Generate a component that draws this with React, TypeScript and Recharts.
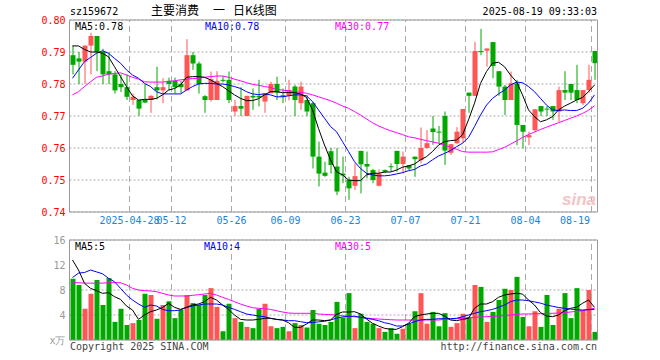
import { ComposedChart, Bar, Line, XAxis, YAxis, CartesianGrid, ReferenceLine, Cell } from 'recharts'

const dates = [
  '04-14', '04-15', '04-16', '04-17', '04-18', '04-21', '04-22', '04-23', '04-24', '04-25',
  '04-28', '04-29', '04-30', '05-06', '05-07', '05-08', '05-09', '05-12', '05-13', '05-14',
  '05-15', '05-16', '05-19', '05-20', '05-21', '05-22', '05-23', '05-26', '05-27', '05-28',
  '05-29', '05-30', '06-03', '06-04', '06-05', '06-06', '06-09', '06-10', '06-11', '06-12',
  '06-13', '06-16', '06-17', '06-18', '06-19', '06-20', '06-23', '06-24', '06-25', '06-26',
  '06-27', '06-30', '07-01', '07-02', '07-03', '07-04', '07-07', '07-08', '07-09', '07-10',
  '07-11', '07-14', '07-15', '07-16', '07-17', '07-18', '07-21', '07-22', '07-23', '07-24',
  '07-25', '07-28', '07-29', '07-30', '07-31', '08-01', '08-04', '08-05', '08-06', '08-07',
  '08-08', '08-11', '08-12', '08-13', '08-14', '08-15', '08-18', '08-19',
]

const axisDates = ['04-28', '05-12', '05-26', '06-09', '06-23', '07-07', '07-21', '08-04', '08-19']

const open = [
  0.789, 0.788, 0.787, 0.792, 0.795, 0.790, 0.784, 0.783, 0.780, 0.779,
  0.775, 0.775, 0.775, 0.775, 0.779, 0.778, 0.781, 0.781, 0.780, 0.778,
  0.789, 0.7864, 0.7762, 0.775, 0.775, 0.7813, 0.7813, 0.7714, 0.7731, 0.770,
  0.7763, 0.7763, 0.7745, 0.7771, 0.780, 0.7765, 0.7763, 0.7792, 0.774, 0.775,
  0.774, 0.7573, 0.7523, 0.759, 0.7542, 0.752, 0.750, 0.7482, 0.7591, 0.755,
  0.7531, 0.7482, 0.7531, 0.7543, 0.7591, 0.755, 0.7546, 0.7573, 0.7562, 0.760,
  0.7661, 0.7651, 0.770, 0.7585, 0.7615, 0.763, 0.7773, 0.7763, 0.7903, 0.7904,
  0.7931, 0.784, 0.7792, 0.775, 0.7802, 0.7672, 0.7633, 0.7656, 0.7731, 0.7723,
  0.7731, 0.7714, 0.7781, 0.780, 0.7781, 0.774, 0.7781, 0.7903,
]

const high = [
  0.792, 0.790, 0.792, 0.796, 0.795, 0.791, 0.790, 0.784, 0.783, 0.783,
  0.777, 0.775, 0.780, 0.7765, 0.7854, 0.7818, 0.782, 0.782, 0.781, 0.794,
  0.790, 0.787, 0.7765, 0.7839, 0.784, 0.7825, 0.7839, 0.775, 0.779, 0.7763,
  0.7786, 0.7813, 0.7771, 0.7807, 0.7823, 0.7786, 0.7813, 0.7797, 0.7807, 0.7766,
  0.7745, 0.762, 0.7557, 0.760, 0.760, 0.7573, 0.751, 0.7552, 0.7591, 0.7589,
  0.7535, 0.7533, 0.7533, 0.7552, 0.7591, 0.7589, 0.7546, 0.7573, 0.7664, 0.7656,
  0.770, 0.7669, 0.7714, 0.7612, 0.7665, 0.7722, 0.7773, 0.7932, 0.7972, 0.7911,
  0.7931, 0.784, 0.7797, 0.7839, 0.7813, 0.7672, 0.7651, 0.7721, 0.7731, 0.7731,
  0.7731, 0.7792, 0.784, 0.780, 0.786, 0.7781, 0.786, 0.7903,
]

const low = [
  0.783, 0.780, 0.780, 0.783, 0.784, 0.780, 0.780, 0.777, 0.7775, 0.775,
  0.7735, 0.770, 0.774, 0.771, 0.7752, 0.774, 0.778, 0.777, 0.777, 0.778,
  0.7844, 0.777, 0.771, 0.7745, 0.775, 0.7805, 0.774, 0.770, 0.770, 0.770,
  0.7719, 0.773, 0.771, 0.7771, 0.775, 0.774, 0.7749, 0.770, 0.7719, 0.770,
  0.7536, 0.748, 0.751, 0.752, 0.7453, 0.749, 0.7438, 0.7469, 0.7458, 0.7505,
  0.749, 0.748, 0.7521, 0.7526, 0.7526, 0.752, 0.7531, 0.751, 0.7552, 0.7598,
  0.761, 0.7615, 0.7547, 0.7578, 0.7613, 0.7615, 0.771, 0.7763, 0.789, 0.7854,
  0.7818, 0.7763, 0.7703, 0.775, 0.7609, 0.7599, 0.7609, 0.7651, 0.770, 0.770,
  0.7688, 0.7682, 0.775, 0.775, 0.774, 0.7734, 0.7773, 0.7813,
]

const close = [
  0.786, 0.787, 0.792, 0.795, 0.790, 0.783, 0.783, 0.778, 0.779, 0.776,
  0.776, 0.7723, 0.7742, 0.7763, 0.778, 0.779, 0.780, 0.779, 0.779, 0.789,
  0.7864, 0.780, 0.775, 0.7815, 0.781, 0.781, 0.775, 0.7731, 0.7723, 0.7763,
  0.7758, 0.7758, 0.7771, 0.780, 0.7773, 0.776, 0.7781, 0.775, 0.7792, 0.7714,
  0.7573, 0.752, 0.7513, 0.7547, 0.7464, 0.7514, 0.7474, 0.7512, 0.7549, 0.7542,
  0.750, 0.752, 0.7526, 0.7541, 0.755, 0.7573, 0.7536, 0.7565, 0.760, 0.7615,
  0.765, 0.7649, 0.7592, 0.7612, 0.7651, 0.7722, 0.7763, 0.7903, 0.790, 0.7911,
  0.7856, 0.7792, 0.775, 0.7802, 0.7672, 0.7651, 0.764, 0.7721, 0.7714, 0.7721,
  0.7714, 0.7781, 0.7773, 0.7773, 0.775, 0.7781, 0.7813, 0.7865,
]

const ma5 = [
  0.7919, 0.7919, 0.7908, 0.790, 0.790, 0.7896, 0.7885, 0.7854, 0.7823, 0.7792,
  0.7763, 0.775, 0.7752, 0.7752, 0.7755, 0.7766, 0.7781, 0.7786, 0.7797, 0.7821,
  0.7823, 0.7823, 0.7821, 0.7813, 0.7802, 0.7792, 0.7779, 0.7766, 0.7755, 0.7748,
  0.7748, 0.7754, 0.7766, 0.7776, 0.7776, 0.7773, 0.7773, 0.7773, 0.7769, 0.7758,
  0.7719, 0.7661, 0.7609, 0.7563, 0.7526, 0.7516, 0.750, 0.7498, 0.7498, 0.7516,
  0.7521, 0.7521, 0.7525, 0.7525, 0.7531, 0.754, 0.7544, 0.755, 0.7563, 0.7573,
  0.7589, 0.7609, 0.762, 0.7623, 0.7625, 0.7641, 0.7688, 0.774, 0.7802, 0.7839,
  0.7865, 0.7868, 0.7854, 0.7828, 0.7807, 0.7766, 0.7719, 0.7698, 0.7682, 0.7688,
  0.7698, 0.7719, 0.7731, 0.774, 0.775, 0.7758, 0.7776, 0.7797,
]

const ma10 = [
  0.7818, 0.7844, 0.787, 0.7883, 0.7896, 0.7904, 0.7896, 0.788, 0.7865, 0.7844,
  0.7828, 0.7818, 0.7802, 0.7792, 0.7776, 0.7769, 0.7769, 0.7769, 0.7769, 0.7781,
  0.7792, 0.780, 0.7802, 0.7802, 0.780, 0.780, 0.7797, 0.7792, 0.7786, 0.7776,
  0.7769, 0.7767, 0.7769, 0.7766, 0.776, 0.776, 0.7763, 0.7766, 0.7766, 0.7763,
  0.7745, 0.7719, 0.7693, 0.7667, 0.7651, 0.762, 0.7589, 0.7557, 0.7536, 0.7521,
  0.7516, 0.7513, 0.7513, 0.7515, 0.7519, 0.7523, 0.7529, 0.7533, 0.7544, 0.755,
  0.7563, 0.7575, 0.7583, 0.7592, 0.7604, 0.7615, 0.7633, 0.7667, 0.7703, 0.7734,
  0.7755, 0.7769, 0.7781, 0.7797, 0.7806, 0.7804, 0.7792, 0.7776, 0.7755, 0.7734,
  0.7719, 0.7717, 0.7719, 0.7717, 0.7717, 0.7724, 0.774, 0.7766,
]

const ma30 = [
  0.7766, 0.7776, 0.7792, 0.7807, 0.7821, 0.7825, 0.7831, 0.7833, 0.7835, 0.7828,
  0.7821, 0.7815, 0.7807, 0.7806, 0.7806, 0.7806, 0.7808, 0.781, 0.7813, 0.7815,
  0.7817, 0.7818, 0.7821, 0.7823, 0.7825, 0.7825, 0.7821, 0.7815, 0.781, 0.7804,
  0.7799, 0.7796, 0.7792, 0.7789, 0.7783, 0.7781, 0.7779, 0.7776, 0.7774, 0.7771,
  0.7766, 0.776, 0.7754, 0.7748, 0.774, 0.7731, 0.7724, 0.7714, 0.7703, 0.7691,
  0.7679, 0.7669, 0.7661, 0.7654, 0.7648, 0.7642, 0.7635, 0.7632, 0.7627, 0.7623,
  0.7619, 0.7615, 0.7609, 0.7602, 0.7596, 0.7589, 0.7587, 0.7587, 0.7587, 0.7587,
  0.7588, 0.7595, 0.7602, 0.7612, 0.7622, 0.7633, 0.7642, 0.765, 0.7658, 0.7665,
  0.7672, 0.7679, 0.7686, 0.7693, 0.770, 0.7708, 0.7718, 0.7732,
]

// volume, unit: 万
const vol = [
  9.8, 8.8, 5.0, 7.4, 9.6, 5.6, 9.9, 2.9, 5.0, 2.4,
  2.7, 3.2, 7.4, 7.2, 3.4, 5.6, 6.2, 3.5, 4.8, 7.2,
  5.9, 5.6, 7.2, 8.3, 5.3, 1.4, 5.8, 3.5, 2.9, 2.1,
  1.9, 5.0, 5.8, 2.2, 1.9, 2.1, 1.4, 2.7, 2.4, 2.0,
  4.8, 2.6, 2.4, 2.9, 6.1, 3.6, 7.5, 1.9, 4.2, 2.9,
  2.6, 1.9, 1.3, 1.9, 1.0, 1.8, 2.6, 4.6, 7.5, 2.6,
  4.5, 2.2, 4.3, 2.1, 2.7, 4.2, 3.7, 8.8, 8.5, 2.9,
  4.5, 6.4, 8.2, 8.0, 10.1, 3.7, 2.2, 4.6, 2.1, 7.2,
  2.4, 5.0, 7.5, 3.5, 8.3, 4.8, 8.0, 1.3,
]

const volMa5 = [
  12.8, 11.2, 9.07, 8.27, 7.9, 7.47, 7.57, 6.93, 6.5, 5.44,
  4.8, 3.3, 4.0, 4.53, 4.8, 5.2, 5.87, 5.23, 4.9, 5.23,
  5.6, 5.76, 6.13, 6.83, 6.4, 5.6, 4.9, 4.0, 3.3, 3.2,
  3.2, 3.3, 3.47, 3.47, 3.3, 3.2, 2.77, 2.03, 2.03, 2.56,
  3.2, 3.2, 3.1, 3.2, 4.1, 4.48, 4.48, 4.53, 4.16, 3.36,
  2.67, 2.24, 1.87, 1.71, 1.71, 2.13, 2.67, 3.73, 4.0, 4.16,
  4.27, 4.27, 3.84, 3.2, 3.09, 3.3, 3.47, 5.07, 5.76, 5.76,
  6.13, 6.83, 7.2, 7.36, 7.47, 7.36, 6.4, 5.6, 4.37, 3.84,
  3.73, 4.0, 4.69, 5.07, 5.23, 5.87, 6.4, 5.23,
]

const volMa10 = [
  10.0, 10.7, 10.8, 11.2, 10.9, 10.6, 9.87, 9.33, 8.27, 7.2,
  6.4, 5.76, 5.23, 5.6, 5.44, 4.9, 4.69, 4.69, 4.8, 5.23,
  5.44, 5.6, 5.76, 5.76, 5.76, 5.6, 5.23, 4.9, 4.53, 4.16,
  4.0, 3.84, 3.73, 3.47, 3.3, 3.2, 3.09, 3.09, 2.93, 2.77,
  2.8, 2.9, 3.0, 3.2, 3.5, 3.7, 3.8, 3.8, 3.63, 3.47,
  3.3, 3.09, 2.77, 2.56, 2.24, 2.24, 2.56, 2.93, 3.2, 3.3,
  3.3, 3.41, 3.41, 3.41, 3.47, 3.73, 4.0, 4.27, 4.53, 4.69,
  4.9, 5.23, 5.6, 6.13, 6.4, 6.4, 6.29, 6.1, 5.9, 5.6,
  5.4, 5.2, 5.07, 4.95, 4.85, 4.8, 4.85, 4.9,
]

const volMa30 = [
  9.17, 9.17, 9.1, 9.1, 9.1, 9.1, 9.17, 9.17, 9.17, 8.8,
  8.27, 8.0, 7.9, 7.85, 7.73, 7.47, 7.2, 7.04, 7.04, 7.04,
  7.15, 7.25, 7.36, 7.47, 7.2, 6.83, 6.5, 6.13, 5.76, 5.44,
  5.17, 5.07, 5.0, 4.9, 4.69, 4.48, 4.32, 4.27, 4.27, 4.27,
  4.27, 4.16, 4.1, 4.05, 4.0, 3.89, 3.79, 3.73, 3.63, 3.52,
  3.41, 3.36, 3.3, 3.25, 3.2, 3.2, 3.2, 3.2, 3.2, 3.2,
  3.2, 3.2, 3.3, 3.36, 3.41, 3.47, 3.52, 3.63, 3.68, 3.73,
  3.79, 3.84, 3.9, 4.0, 4.1, 4.16, 4.16, 4.21, 4.21, 4.27,
  4.27, 4.32, 4.37, 4.48, 4.59, 4.69, 4.9, 5.07,
]

const priceTicks = [0.74, 0.75, 0.76, 0.77, 0.78, 0.79, 0.8]
const volTicks = [0, 4, 8, 12, 16]

const UP = '#ff5555'
const DOWN = '#00a800'
const GRID = '#aaaaaa'
const FRAME = '#999999'
const MONO = '"DejaVu Sans Mono", monospace'

const tickIdx = axisDates.map((d) => dates.indexOf(d))
const lastIdx = dates.length - 1

const rows = dates.map((d, i) => ({
  i,
  date: d,
  open: open[i],
  high: high[i],
  low: low[i],
  close: close[i],
  ma5: ma5[i],
  ma10: ma10[i],
  ma30: ma30[i],
}))

const volRows = dates.map((d, i) => ({
  i,
  vol: vol[i],
  ma5: volMa5[i],
  ma10: volMa10[i],
  ma30: volMa30[i],
  up: close[i] > open[i],
}))

function Candle(props: any) {
  const { x, y, width, height, payload } = props
  const { open, close, high, low } = payload
  const color = close > open ? UP : DOWN
  const k = high > low ? height / (high - low) : 0
  const top = y + (high - Math.max(open, close)) * k
  const bot = y + (high - Math.min(open, close)) * k
  const cx = x + width / 2
  return (
    <g>
      <line x1={cx} x2={cx} y1={y} y2={y + height} stroke={color} strokeWidth={1} />
      <rect x={x} y={top} width={width} height={Math.max(bot - top, 1)} fill={color} />
    </g>
  )
}

function DateTick(props: any) {
  const { x, y, payload } = props
  const idx = payload.value
  const first = idx === tickIdx[0]
  const last = idx === tickIdx[tickIdx.length - 1]
  return (
    <text
      x={last ? x - 4.5 : x - 3}
      y={y + 12}
      textAnchor={last ? 'end' : 'middle'}
      fill="#1a84d8"
      fontSize={10}
      fontFamily={MONO}
    >
      {first ? '2025-' + dates[idx] : dates[idx]}
    </text>
  )
}

const label = (left: number, top: number, color: string, text: string, size = 10, font = MONO) => (
  <div
    style={{
      position: 'absolute',
      left,
      top,
      color,
      fontSize: size,
      fontFamily: font,
      lineHeight: '12px',
      whiteSpace: 'pre',
    }}
  >
    {text}
  </div>
)

export default function App() {
  return (
    <div style={{ position: 'absolute', left: 0, top: 0, width: 660, height: 360, background: '#fff', overflow: 'hidden' }}>
      {/* price panel */}
      <div style={{ position: 'absolute', left: 0, top: 0 }}>
        <ComposedChart width={660} height={235} data={rows} margin={{ top: 20, right: 62.5, bottom: 3, left: 0 }}>
          <CartesianGrid vertical={false} stroke={GRID} strokeDasharray="2 2" />
          {tickIdx.map((t) => (
            <ReferenceLine key={t} x={t} position="start" stroke={GRID} strokeDasharray="6 4" />
          ))}
          <ReferenceLine y={0.8} stroke={FRAME} />
          <ReferenceLine x={lastIdx} position="end" stroke={FRAME} />
          <XAxis
            dataKey="i"
            type="category"
            ticks={tickIdx}
            interval={0}
            height={20}
            tickSize={0}
            tickMargin={0}
            tickLine={false}
            axisLine={{ stroke: FRAME }}
            tick={<DateTick />}
          />
          <YAxis
            domain={[0.74, 0.8]}
            ticks={priceTicks}
            allowDataOverflow
            width={69.5}
            tickSize={0}
            tickMargin={4}
            tickLine={false}
            axisLine={{ stroke: FRAME }}
            tickFormatter={(v: number) => v.toFixed(2)}
            tick={{ fill: '#ff0000', fontSize: 10, fontFamily: MONO }}
          />
          <Bar dataKey={(d: any) => [d.low, d.high]} barSize={5} shape={(p: any) => <Candle {...p} />} isAnimationActive={false} />
          <Line dataKey="ma30" type="linear" stroke="#ff00ff" strokeWidth={1} dot={false} isAnimationActive={false} />
          <Line dataKey="ma10" type="linear" stroke="#0000ff" strokeWidth={1} dot={false} isAnimationActive={false} />
          <Line dataKey="ma5" type="linear" stroke="#000000" strokeWidth={1} dot={false} isAnimationActive={false} />
        </ComposedChart>
      </div>

      {/* volume panel */}
      <div style={{ position: 'absolute', left: 0, top: 235 }}>
        <ComposedChart width={660} height={125} data={volRows} margin={{ top: 5, right: 62.5, bottom: 20, left: 0 }}>
          <CartesianGrid vertical={false} stroke={GRID} strokeDasharray="2 2" />
          {tickIdx.map((t) => (
            <ReferenceLine key={t} x={t} position="start" stroke={GRID} strokeDasharray="6 4" />
          ))}
          <ReferenceLine y={16} stroke={FRAME} />
          <ReferenceLine y={0} stroke={FRAME} />
          <ReferenceLine x={lastIdx} position="end" stroke={FRAME} />
          <XAxis dataKey="i" type="category" hide />
          <YAxis
            domain={[0, 16]}
            ticks={volTicks}
            allowDataOverflow
            width={69.5}
            tickSize={0}
            tickMargin={4}
            tickLine={false}
            axisLine={{ stroke: FRAME }}
            tickFormatter={(v: number) => (v === 0 ? 'x万' : String(v))}
            tick={{ fill: '#999999', fontSize: 10, fontFamily: MONO }}
          />
          <Bar dataKey="vol" barSize={5} isAnimationActive={false}>
            {volRows.map((r) => (
              <Cell key={r.i} fill={r.up ? UP : DOWN} />
            ))}
          </Bar>
          <Line dataKey="ma30" type="linear" stroke="#ff00ff" strokeWidth={1} dot={false} isAnimationActive={false} />
          <Line dataKey="ma10" type="linear" stroke="#0000ff" strokeWidth={1} dot={false} isAnimationActive={false} />
          <Line dataKey="ma5" type="linear" stroke="#000000" strokeWidth={1} dot={false} isAnimationActive={false} />
        </ComposedChart>
      </div>

      {/* header */}
      {label(70, 6, '#000', 'sz159672')}
      {label(151, 4, '#000', '主要消费', 12, '"Noto Sans CJK SC", sans-serif')}
      {label(213, 4, '#000', '一', 12, '"Noto Sans CJK SC", sans-serif')}
      {label(233, 4, '#000', '日K线图', 12, '"Noto Sans CJK SC", sans-serif')}
      <div style={{ position: 'absolute', right: 63, top: 6, fontSize: 10, fontFamily: MONO, lineHeight: '12px' }}>
        2025-08-19 09:33:03
      </div>

      {/* legends */}
      {label(75, 21, '#000', 'MA5:0.78')}
      {label(205, 21, '#0000ff', 'MA10:0.78')}
      {label(335, 21, '#ff00ff', 'MA30:0.77')}
      {label(75, 241, '#000', 'MA5:5')}
      {label(204, 241, '#0000ff', 'MA10:4')}
      {label(335, 241, '#ff00ff', 'MA30:5')}

      {/* watermark */}
      <div
        style={{
          position: 'absolute',
          left: 562,
          top: 190,
          color: '#f4c4c4',
          fontSize: 17,
          fontWeight: 'bold',
          fontStyle: 'italic',
          fontFamily: 'Arial, "Liberation Sans", sans-serif',
          lineHeight: '20px',
        }}
      >
        sina
      </div>

      {/* footer */}
      {label(70, 341, '#444', 'Copyright 2025 SINA.COM')}
      <div style={{ position: 'absolute', right: 63, top: 341, color: '#444', fontSize: 10, fontFamily: MONO, lineHeight: '12px' }}>
        http://finance.sina.com.cn
      </div>
    </div>
  )
}
